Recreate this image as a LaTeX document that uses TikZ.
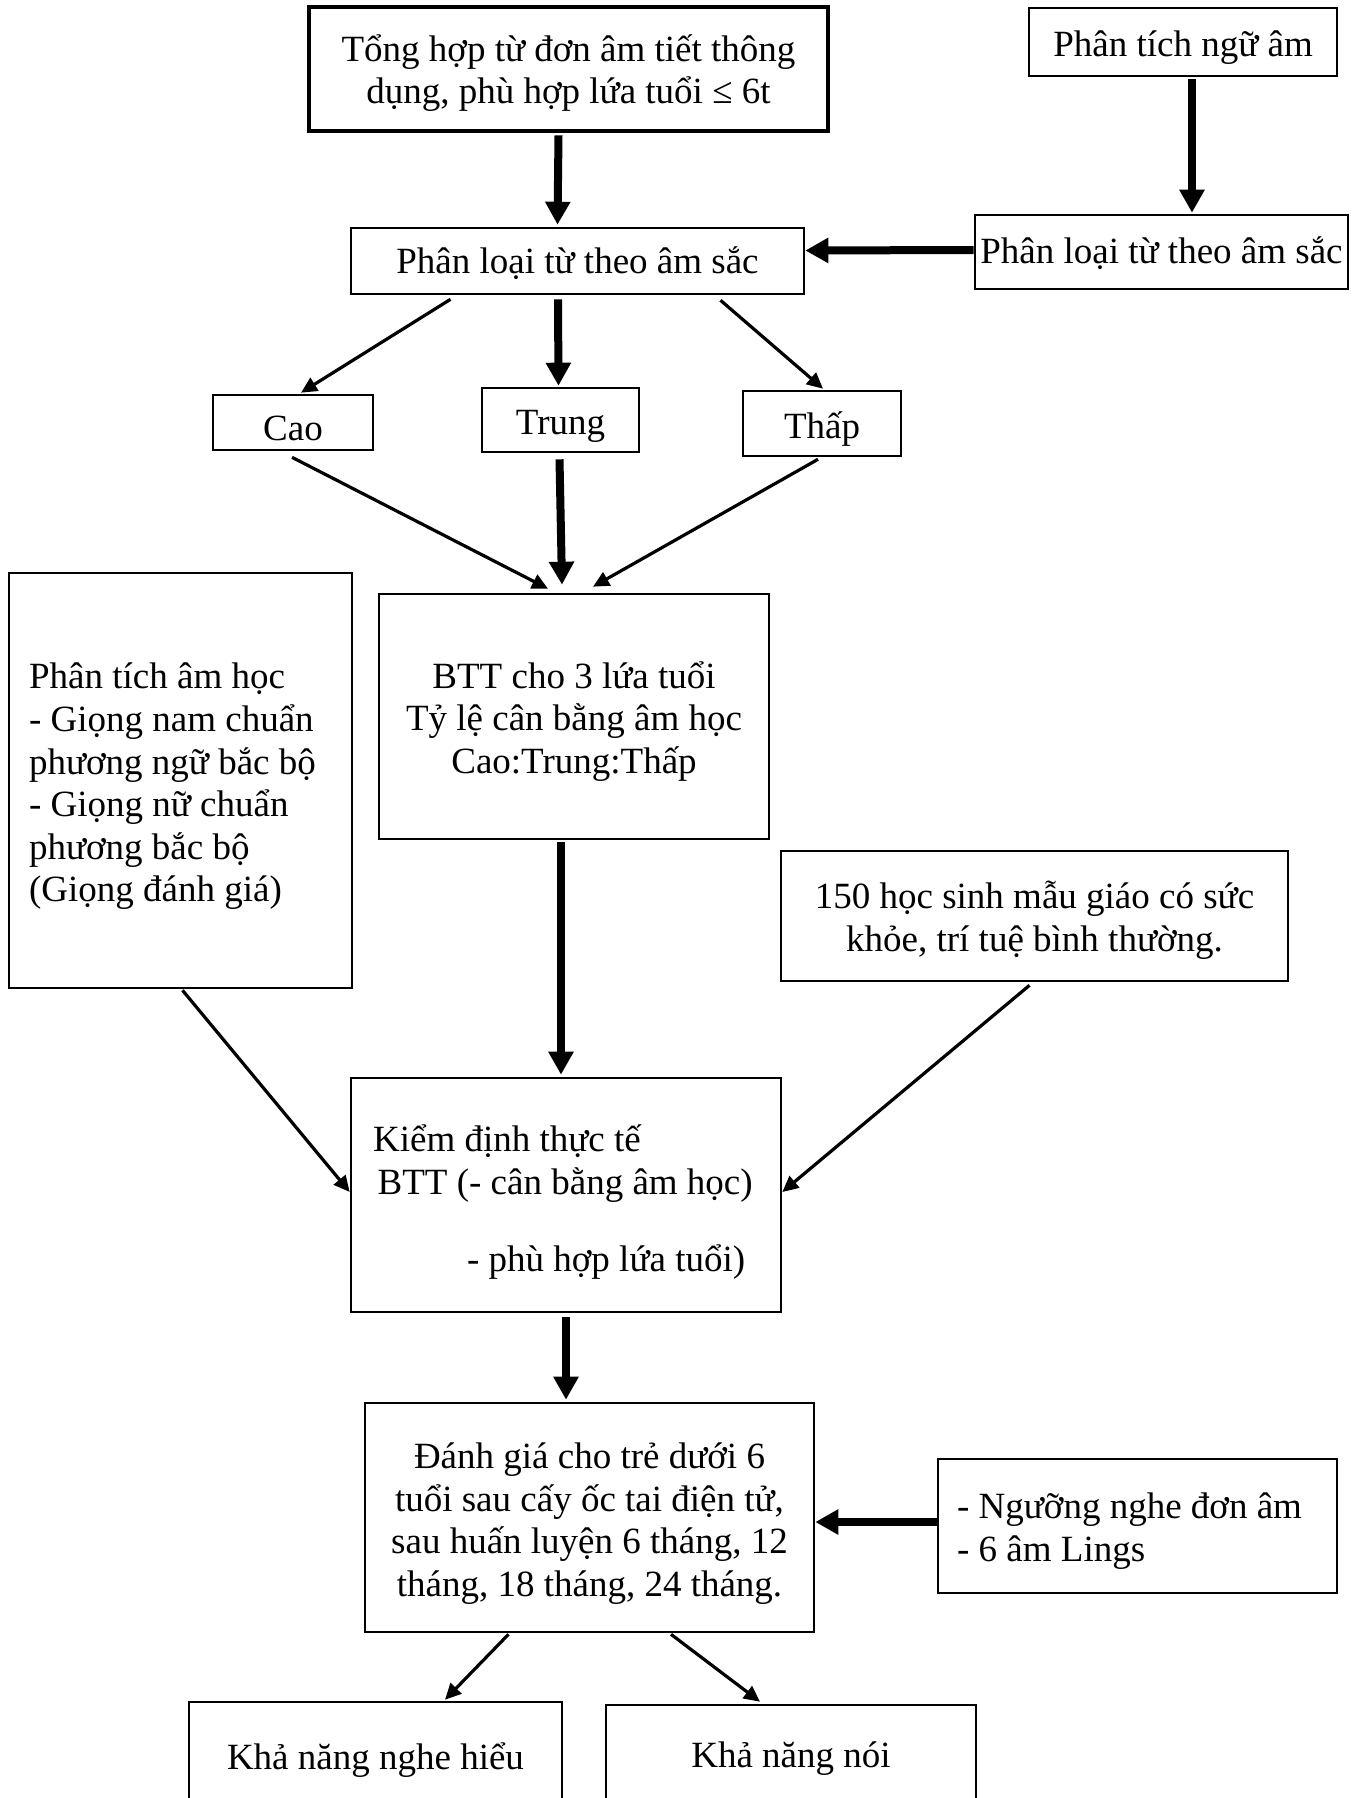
\documentclass[tikz,border=0pt]{standalone}
\usepackage{fontspec}
\setmainfont{Liberation Serif}
\usetikzlibrary{arrows.meta,calc}
\begin{document}
\begin{tikzpicture}[x=0.5pt,y=-0.5pt,
  box/.style={draw, line width=1.3pt, inner sep=0pt},
  txt/.style={inner sep=0pt, align=center, font=\fontsize{18.5}{21.3}\selectfont},
  ltxt/.style={txt, align=left, anchor=west},
  thin/.style={line width=1.6pt, -{Triangle[length=8pt,width=7.5pt]}},
  fat/.style={line width=4pt, -{Triangle[length=11.5pt,width=12pt]}}]
\useasboundingbox (0,0) rectangle (1363,1798);
\fill[white] (0,0) rectangle (1363,1798);
\clip (0,0) rectangle (1363,1798);

% boxes
\node[box, line width=2.3pt, minimum width=259.5pt, minimum height=62pt] (top) at (568.5,69) {};
\node[box, minimum width=154pt, minimum height=34pt] (ngu) at (1183,42) {};
\node[box, minimum width=186.5pt, minimum height=37pt] (plr) at (1161.5,252) {};
\node[box, minimum width=226.5pt, minimum height=33pt] (pl) at (577.5,261) {};
\node[box, minimum width=80pt, minimum height=27.5pt] (cao) at (293,422.5) {};
\node[box, minimum width=78.5pt, minimum height=32pt] (trung) at (560.5,420) {};
\node[box, minimum width=79pt, minimum height=32.5pt] (thap) at (822,423.5) {};
\node[box, minimum width=195pt, minimum height=122.5pt] (btt) at (574,716.5) {};
\node[box, minimum width=171.5pt, minimum height=207.5pt] (ptah) at (180.5,780.5) {};
\node[box, minimum width=253.5pt, minimum height=65pt] (hs) at (1034.5,916) {};
\node[box, minimum width=215pt, minimum height=117pt] (kd) at (566,1195) {};
\node[box, minimum width=224.5pt, minimum height=114.5pt] (dg) at (589.5,1517.5) {};
\node[box, minimum width=199.5pt, minimum height=67pt] (ng) at (1137.5,1526) {};
\node[box, minimum width=186.5pt, minimum height=54pt] (knh) at (375.5,1756) {};
\node[box, minimum width=185pt, minimum height=49pt] (kn) at (791,1754) {};

% texts
\node[txt] (toptx) at ($(top)+(0,4)$) {Tổng hợp từ đơn âm tiết thông\\dụng, phù hợp lứa tuổi ≤ 6t};
\node[txt] (ngutx) at ($(ngu)+(0,6)$) {Phân tích ngữ âm};
\node[txt] (plrtx) at ($(plr)+(0,1)$) {Phân loại từ theo âm sắc};
\node[txt] (pltx) at ($(pl)+(0,2)$) {Phân loại từ theo âm sắc};
\node[txt] (caotx) at ($(cao)+(0,6)$) {Cao};
\node[txt] (trungtx) at ($(trung)+(0,6)$) {Trung};
\node[txt] (thaptx) at ($(thap)+(0,6)$) {Thấp};
\node[txt] (btttx) at ($(btt)+(0,5)$) {BTT cho 3 lứa tuổi\\Tỷ lệ cân bằng âm học\\Cao:Trung:Thấp};
\node[ltxt] (ptahtx) at ($(ptah.west)+(21,6)$)
  {Phân tích âm học\\- Giọng nam chuẩn\\phương ngữ bắc bộ\\- Giọng nữ chuẩn\\phương bắc bộ\\(Giọng đánh giá)};
\node[txt] (hstx) at ($(hs)+(0,4)$) {150 học sinh mẫu giáo có sức\\khỏe, trí tuệ bình thường.};
\node[ltxt] (kdtx) at ($(kd.west)+(23,7)$)
  {Kiểm định thực tế\\\hspace*{2.3pt}BTT (- cân bằng âm học)\\[17pt]\hspace*{47pt}- phù hợp lứa tuổi)};
\node[txt] (dgtx) at ($(dg)+(0,6)$)
  {Đánh giá cho trẻ dưới 6\\tuổi sau cấy ốc tai điện tử,\\sau huấn luyện 6 tháng, 12\\tháng, 18 tháng, 24 tháng.};
\node[ltxt] (ngtx) at ($(ng.west)+(20,5)$) {- Ngưỡng nghe đơn âm\\- 6 âm Lings};
\node[txt] (knhtx) at ($(knh)+(0,4)$) {Khả năng nghe hiểu};
\node[txt] (kntx) at ($(kn)+(0,5)$) {Khả năng nói};

% connectors
\draw[fat] ($(top.south)+(-10,2)$) -- ($(pl.north)+(-20,-2)$);
\draw[fat] ($(ngu.south)+(9,2)$) -- ($(plr.north)+(30.5,-1)$);
\draw[fat] ($(plr.west)+(0,-2)$) -- ($(pl.east)+(0,-10.5)$);
\draw[thin] ($(pl.south)+(-127,4)$) -- ($(cao.north)+(8,-1)$);
\draw[fat] ($(pl.south)+(-19.5,4)$) -- ($(trung.north)+(-2,-1)$);
\draw[thin] ($(pl.south)+(143,5)$) -- ($(thap.north)+(1,-1)$);
\draw[thin] ($(cao.south)+(-1,6)$) -- ($(btt.north)+(-26,-4)$);
\draw[fat] ($(trung.south)+(-1,6)$) -- ($(btt.north)+(-12,-8)$);
\draw[thin] ($(thap.south)+(-4,2)$) -- ($(btt.north)+(19,-6)$);
\draw[fat] ($(btt.south)+(-13,2)$) -- ($(kd.north)+(-5,-2)$);
\draw[thin] ($(ptah.south)+(2,1)$) -- ($(kd.west)+(0,-3)$);
\draw[thin] ($(hs.south)+(-5,3)$) -- ($(kd.east)+(0,-3)$);
\draw[fat] ($(kd.south)+(0,4)$) -- ($(dg.north)+(-23.5,-2)$);
\draw[fat] ($(ng.west)+(0,-4)$) -- ($(dg.east)+(0,4.5)$);
\draw[thin] ($(dg.south)+(-81,1)$) -- ($(knh.north)+(69.5,-1)$);
\draw[thin] ($(dg.south)+(81.5,1)$) -- ($(kn.north)+(-31,-2)$);
\end{tikzpicture}
\end{document}
